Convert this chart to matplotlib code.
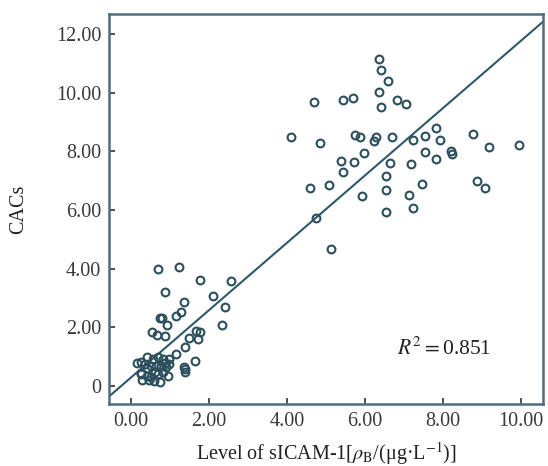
import matplotlib
matplotlib.use("Agg")
import matplotlib.pyplot as plt
import numpy as np

# ---- data ----
sicam_high = [4.10, 4.69, 4.85, 5.43, 5.69, 6.35, 6.40, 6.58, 6.35, 6.40, 6.83, 7.05,
              5.75, 5.88, 6.29, 6.23, 6.68, 7.22, 7.53, 7.81, 7.91, 8.78, 9.18, 9.94,
              8.20, 8.24, 7.54, 7.83, 7.17, 6.64, 5.97, 5.39, 5.71, 5.44, 6.53, 4.59,
              5.07, 5.91, 6.53, 7.13, 7.46, 8.87, 9.07, 4.75, 5.13, 6.53, 7.24]
cacs_high = [8.47, 9.68, 8.29, 9.74, 9.83, 11.16, 10.78, 10.41, 10.03, 9.52, 9.75, 9.62,
             8.55, 8.50, 8.50, 8.34, 8.50, 8.38, 8.52, 8.80, 8.38, 8.60, 8.14, 8.20,
             8.02, 7.89, 7.96, 7.74, 7.57, 7.60, 7.93, 7.68, 7.62, 7.28, 7.16, 6.76,
             6.86, 6.48, 6.67, 6.51, 6.89, 6.99, 6.75, 5.72, 4.67, 5.94, 6.05]

sicam_low = [0.68, 1.23, 1.76, 2.57, 0.87, 2.10, 1.35, 1.29, 1.16, 2.40, 0.75, 0.78,
             0.91, 2.33, 0.53, 0.65, 0.87, 1.65, 1.76, 1.48, 1.71, 1.14, 1.37, 1.64,
             1.36, 1.38, 1.37,
             0.16, 0.26, 0.41, 0.55, 0.70, 0.82, 0.97, 0.96, 0.24, 0.25, 0.40, 0.50,
             0.64, 0.76, 0.89, 0.61, 0.70, 0.82, 0.94, 0.29, 0.46, 0.59, 0.75, 0.40,
             0.52, 0.86, 0.36]
cacs_low = [3.97, 4.05, 3.61, 3.58, 3.19, 3.08, 2.87, 2.51, 2.37, 2.70, 2.31, 2.31,
            2.07, 2.09, 1.82, 1.74, 1.70, 1.88, 1.83, 1.64, 1.60, 1.09, 1.32, 0.83,
            0.63, 0.58, 0.46,
            0.78, 0.80, 0.97, 0.91, 0.97, 0.90, 0.90, 0.76, 0.44, 0.40, 0.61, 0.68,
            0.68, 0.68, 0.65, 0.48, 0.42, 0.48, 0.34, 0.19, 0.19, 0.16, 0.12, 0.33,
            0.30, 0.78, 0.75]

fit_intercept = 0.29
fit_slope = 1.148
r2_text = "0.851"

x_ticks = [0, 2, 4, 6, 8, 10]
x_ticklabels = ["0.00", "2.00", "4.00", "6.00", "8.00", "10.00"]
y_ticks = [0, 2, 4, 6, 8, 10, 12]
y_ticklabels = ["0", "2.00", "4.00", "6.00", "8.00", "10.00", "12.00"]

# ---- style ----
plt.rcParams['font.family'] = ['Liberation Serif', 'DejaVu Serif']
plt.rcParams['mathtext.fontset'] = 'stix'

spine_col = "#4d6e7e"
mark_col = "#2c4f5e"
line_col = "#2f5868"
text_col = "#3a3a3a"

fig = plt.figure(figsize=(5.48, 4.66), dpi=100)
ax = fig.add_axes([0.1998, 0.133, 0.7916, 0.837])

x_all = np.array(sicam_high + sicam_low)
y_all = np.array(cacs_high + cacs_low)
ax.plot(x_all, y_all, linestyle='none', marker='o', markersize=5.6,
        markerfacecolor='none', markeredgecolor=mark_col, markeredgewidth=1.5, zorder=3)

xlim = (-0.556, 10.57)
ylim = (-0.62, 12.68)
ax.set_xlim(*xlim)
ax.set_ylim(*ylim)

xl = np.array(xlim)
ax.plot(xl, fit_intercept + fit_slope * xl, color=line_col, linewidth=1.5, zorder=2)

ax.set_xticks(x_ticks)
ax.set_xticklabels(x_ticklabels)
ax.set_yticks(y_ticks)
ax.set_yticklabels(y_ticklabels)
ax.tick_params(direction='in', length=4, width=1.2, color='#333333',
               labelsize=14.5, labelcolor=text_col, pad=6)

for s in ax.spines.values():
    s.set_color(spine_col)
    s.set_linewidth(1.8)

ax.set_ylabel("CACs", fontsize=14.5, color='#222222', labelpad=20)
ax.set_xlabel("Level of sICAM-1[$\\rho_{\\mathrm{B}}$/(μg·L$^{-1}$)]",
              fontsize=14.5, color='#222222', labelpad=6)

ax.text(6.82, 1.25, "$\\mathit{R}^{2}$$=$" + r2_text,
        fontsize=15.5, color='#222222', va='center', ha='left')

fig.savefig("out.png", dpi=100)
